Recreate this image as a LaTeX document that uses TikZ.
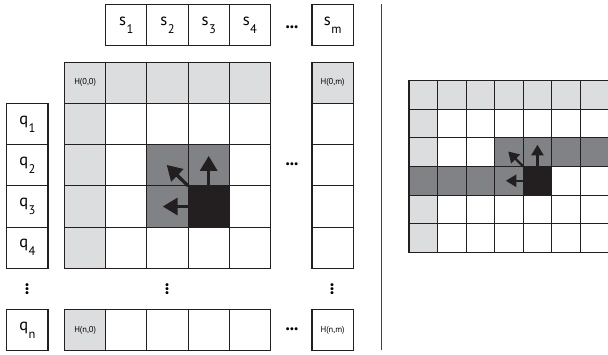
\documentclass[tikz,border=0pt]{standalone}
\usepackage{fontspec}
\setmainfont{PT Sans}
\usetikzlibrary{positioning,arrows.meta}

\definecolor{lightcell}{HTML}{DCDDDE}
\definecolor{midcell}{HTML}{808285}
\definecolor{darkcell}{HTML}{231F20}

\newcommand{\idx}[2]{#1\kern0.5pt\raisebox{-8pt}{\fontsize{12.5}{12.5}\selectfont #2}}
\newcommand{\dotrow}{\textbullet\kern-0.4pt\textbullet\kern-0.4pt\textbullet}

\begin{document}
\begin{tikzpicture}[
        x=1pt, y=-1pt,
        every node/.style={font=\fontsize{16.5}{18}\selectfont},
        cell/.style={
            rectangle,
            draw=darkcell,
            line width=1.1pt,
            anchor=north west,
            inner sep=0pt,
            outer sep=0pt,
            minimum size=41.2pt
        },
        small/.style={
            cell,
            minimum size=28.55pt
        },
        hlabel/.style={font=\fontsize{8.5}{10}\selectfont},
        dots/.style={font=\fontsize{10.5}{12}\selectfont, inner sep=0pt},
        push/.style={
            -{Triangle[width=17pt,length=15pt]},
            line width=3.3pt,
            draw=darkcell
        },
        pushsmall/.style={
            -{Triangle[width=12pt,length=10.5pt]},
            line width=2.3pt,
            draw=darkcell
        }
    ]
    \useasboundingbox (0,0) rectangle (608,354);

    % sequence s
    \foreach \k in {1,...,4}
        \node[cell] (s\k) at ({105.7+41.2*(\k-1)},4.6) {\idx{s}{\k}};
    \node[cell] (sm) at (312,4.6) {\idx{s}{m}};

    % sequence q
    \foreach \k in {1,...,4}
        \node[cell] (q\k) at (6.8,{62.3+41.2*\k}) {\idx{q}{\k}};
    \node[cell] (qn) at (6.8,309.6) {\idx{q}{n}};

    % matrix H
    \foreach \j/\shades in {
            0/{lightcell,lightcell,lightcell,lightcell,lightcell},
            1/{lightcell,white,white,white,white},
            2/{lightcell,white,midcell,midcell,white},
            3/{lightcell,white,midcell,darkcell,white},
            4/{lightcell,white,white,white,white}}
        \foreach \c [count=\i from 0] in \shades
            \node[cell, fill=\c] (h-\j-\i) at ({64.5+41.2*\i},{62.3+41.2*\j}) {};
    \foreach \j/\c in {0/lightcell,1/white,2/white,3/white,4/white}
        \node[cell, fill=\c] (hm-\j) at (312,{62.3+41.2*\j}) {};
    \foreach \c [count=\i from 0] in {lightcell,white,white,white,white}
        \node[cell, fill=\c] (hn-\i) at ({64.5+41.2*\i},309.6) {};
    \node[cell] (hn-m) at (312,309.6) {};

    \node[hlabel] (l00) at (h-0-0) {H(0,0)};
    \node[hlabel] (l0m) at (hm-0) {H(0,m)};
    \node[hlabel] (ln0) at (hn-0) {H(n,0)};
    \node[hlabel] (lnm) at (hn-m) {H(n,m)};

    % dots
    \node[dots] (dots1) at (292,28) {\dotrow};
    \node[dots] (dots2) at (292,165.3) {\dotrow};
    \node[dots] (dots3) at (292,330) {\dotrow};
    \node[dots, rotate=90] (dots4) at (28,289) {\dotrow};
    \node[dots, rotate=90] (dots5) at (168,289) {\dotrow};
    \node[dots, rotate=90] (dots6) at (333,289) {\dotrow};

    % arrows in H
    \coordinate[above=30pt of h-3-3.north] (upL);
    \coordinate[above left=21pt and 21.4pt of h-3-3.north west] (diagL);
    \coordinate[left=25.4pt of h-3-3.west] (leftL);
    \draw[push] (h-3-3.north) -- (upL);
    \draw[push] (h-3-3.north west) -- (diagL);
    \draw[push] (h-3-3.west) -- (leftL);

    % separator
    \coordinate (septop) at (381.7,4);
    \coordinate (sepbot) at (381.7,350);
    \draw[line width=1pt, draw=darkcell!85] (septop) -- (sepbot);

    % band
    \foreach \j/\shades in {
            0/{lightcell,lightcell,lightcell,lightcell,lightcell,lightcell,lightcell},
            1/{lightcell,white,white,white,white,white,white},
            2/{lightcell,white,white,midcell,midcell,midcell,midcell},
            3/{midcell,midcell,midcell,midcell,darkcell,white,white},
            4/{lightcell,white,white,white,white,white,white},
            5/{lightcell,white,white,white,white,white,white}}
        \foreach \c [count=\i from 0] in \shades
            \node[small, fill=\c] (r-\j-\i) at ({409+28.55*\i},{80.7+28.6*\j}) {};

    % arrows in band
    \coordinate[above=21.7pt of r-3-4.north] (upR);
    \coordinate[above left=15pt and 15pt of r-3-4.north west] (diagR);
    \coordinate[left=17.4pt of r-3-4.west] (leftR);
    \draw[pushsmall] (r-3-4.north) -- (upR);
    \draw[pushsmall] (r-3-4.north west) -- (diagR);
    \draw[pushsmall] (r-3-4.west) -- (leftR);

\end{tikzpicture}
\end{document}
